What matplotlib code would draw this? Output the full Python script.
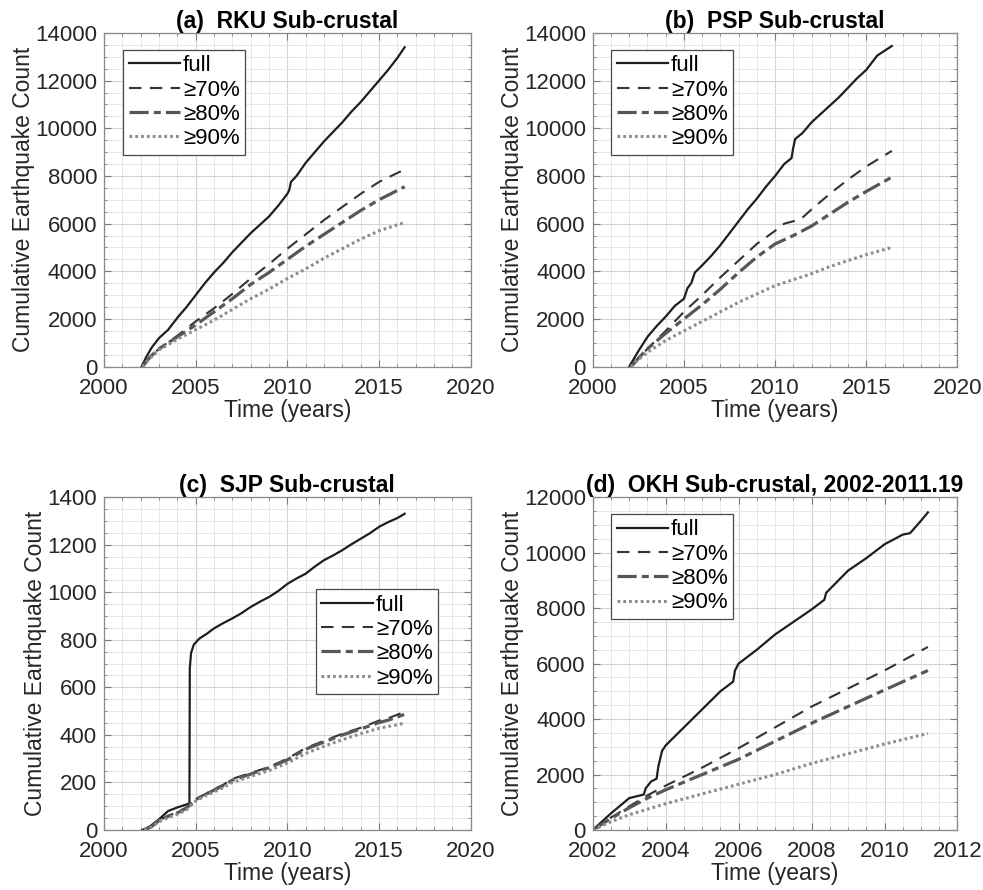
import numpy as np
import matplotlib
matplotlib.use("Agg")
import matplotlib.pyplot as plt
from matplotlib.ticker import MultipleLocator

plt.rcParams['font.family'] = ['Liberation Sans', 'DejaVu Sans']

# ---------------- data ----------------
# (a) RKU
a_full_t = [2002.05, 2002.3, 2002.6, 2003.0, 2003.5, 2004.0, 2004.5, 2005.0, 2005.5, 2006.0, 2006.5,
            2007.0, 2007.5, 2008.0, 2008.5, 2009.0, 2009.5, 2010.0, 2010.1, 2010.2, 2010.5, 2011.0,
            2011.5, 2012.0, 2012.5, 2013.0, 2013.5, 2014.0, 2014.5, 2015.0, 2015.5, 2016.0, 2016.4]
a_full_v = [0, 400, 800, 1200, 1550, 2050, 2500, 3000, 3500, 3950, 4350,
            4800, 5200, 5600, 5950, 6300, 6750, 7250, 7400, 7750, 8000, 8550,
            9000, 9450, 9850, 10250, 10700, 11100, 11550, 12000, 12450, 12950, 13400]
a_70_t = [2002.1, 2002.5, 2003.0, 2004.0, 2005.0, 2006.0, 2007.0, 2008.0, 2009.0, 2010.0, 2011.0,
          2012.0, 2013.0, 2014.0, 2015.0, 2016.2]
a_70_v = [0, 400, 750, 1300, 1900, 2450, 3050, 3700, 4300, 4950, 5550,
          6150, 6700, 7250, 7750, 8200]
a_80_t = [2002.1, 2002.5, 2003.0, 2004.0, 2005.0, 2006.0, 2007.0, 2008.0, 2009.0, 2010.0, 2011.0,
          2012.0, 2013.0, 2014.0, 2015.0, 2016.4]
a_80_v = [0, 400, 750, 1250, 1750, 2300, 2850, 3450, 3950, 4500, 5050,
          5550, 6050, 6550, 7000, 7550]
a_90_t = [2002.1, 2002.5, 2003.0, 2004.0, 2005.0, 2006.0, 2007.0, 2008.0, 2009.0, 2010.0, 2011.0,
          2012.0, 2013.0, 2014.0, 2015.0, 2016.4]
a_90_v = [0, 350, 700, 1150, 1550, 1950, 2400, 2850, 3250, 3700, 4100,
          4550, 4950, 5350, 5700, 6050]

# (b) PSP
b_full_t = [2002.0, 2002.5, 2003.0, 2003.5, 2004.0, 2004.5, 2005.0, 2005.2, 2005.4, 2005.6, 2006.0,
            2006.5, 2007.0, 2007.5, 2008.0, 2008.5, 2009.0, 2009.5, 2010.0, 2010.5, 2010.9, 2011.0,
            2011.1, 2011.5, 2012.0, 2012.5, 2013.0, 2013.5, 2014.0, 2014.5, 2015.0, 2015.6, 2016.0,
            2016.4]
b_full_v = [0, 650, 1250, 1700, 2100, 2550, 2850, 3300, 3500, 3950, 4250,
            4650, 5100, 5600, 6100, 6600, 7050, 7550, 8000, 8500, 8750, 9200,
            9550, 9800, 10250, 10600, 10950, 11300, 11700, 12100, 12450, 13050, 13250,
            13450]
b_70_t = [2002.1, 2002.5, 2003.0, 2004.0, 2005.0, 2006.0, 2007.0, 2008.0, 2009.0, 2010.0, 2010.5,
          2011.0, 2011.5, 2012.0, 2013.0, 2014.0, 2015.0, 2016.4]
b_70_v = [0, 350, 750, 1500, 2300, 3000, 3750, 4450, 5150, 5700, 6000,
          6100, 6250, 6600, 7250, 7850, 8400, 9050]
b_80_t = [2002.1, 2002.5, 2003.0, 2004.0, 2005.0, 2006.0, 2007.0, 2008.0, 2009.0, 2010.0, 2011.0,
          2012.0, 2013.0, 2014.0, 2015.0, 2016.4]
b_80_v = [0, 350, 750, 1400, 2000, 2600, 3250, 3950, 4600, 5150, 5500,
          5900, 6400, 6900, 7350, 7950]
b_90_t = [2002.1, 2002.5, 2003.0, 2004.0, 2005.0, 2006.0, 2007.0, 2008.0, 2009.0, 2010.0, 2011.0,
          2012.0, 2013.0, 2014.0, 2015.0, 2016.4]
b_90_v = [0, 300, 600, 1100, 1500, 1900, 2300, 2700, 3050, 3400, 3650,
          3900, 4200, 4450, 4700, 5000]

# (c) SJP
c_full_t = [2002.1, 2002.5, 2003.0, 2003.5, 2004.0, 2004.4, 2004.66, 2004.68, 2004.75, 2004.9,
            2005.2, 2005.6, 2006.0, 2006.5, 2007.0, 2007.5, 2008.0, 2008.5, 2009.0, 2009.5,
            2010.0, 2010.5, 2011.0, 2011.5, 2012.0, 2012.5, 2013.0, 2013.5, 2014.0, 2014.5,
            2015.0, 2015.5, 2016.0, 2016.4]
c_full_v = [0, 15, 45, 80, 95, 105, 112, 680, 745, 780,
            805, 825, 848, 870, 890, 912, 938, 960, 980, 1005,
            1035, 1058, 1078, 1108, 1135, 1155, 1177, 1202, 1225, 1248,
            1275, 1295, 1312, 1330]
c_70_t = [2002.2, 2002.6, 2003.0, 2003.5, 2004.0, 2004.5, 2005.0, 2005.5, 2006.0, 2006.5, 2007.0,
          2008.0, 2009.0, 2010.0, 2011.0, 2012.0, 2013.0, 2014.0, 2015.0, 2015.5, 2016.0, 2016.4]
c_70_v = [0, 15, 40, 60, 75, 95, 130, 150, 172, 190, 215,
          240, 265, 300, 345, 375, 405, 430, 460, 470, 485, 498]
c_80_t = [2002.2, 2002.6, 2003.0, 2003.5, 2004.0, 2004.5, 2005.0, 2005.5, 2006.0, 2006.5, 2007.0,
          2008.0, 2009.0, 2010.0, 2011.0, 2012.0, 2013.0, 2014.0, 2015.0, 2015.5, 2016.0, 2016.4]
c_80_v = [0, 15, 40, 58, 72, 92, 128, 148, 168, 186, 210,
          235, 262, 295, 340, 370, 400, 425, 452, 462, 475, 487]
c_90_t = [2002.2, 2002.6, 2003.0, 2003.5, 2004.0, 2004.5, 2005.0, 2005.5, 2006.0, 2006.5, 2007.0,
          2008.0, 2009.0, 2010.0, 2011.0, 2012.0, 2013.0, 2014.0, 2015.0, 2016.0, 2016.4]
c_90_v = [0, 12, 35, 52, 66, 85, 122, 142, 160, 178, 200,
          225, 250, 282, 322, 352, 380, 405, 428, 443, 450]

# (d) OKH
d_full_t = [2002.0, 2002.5, 2003.0, 2003.4, 2003.45, 2003.6, 2003.75, 2003.8, 2003.9, 2004.0,
            2004.5, 2005.0, 2005.5, 2005.85, 2005.9, 2006.0, 2006.5, 2007.0, 2007.5, 2008.0,
            2008.35, 2008.4, 2009.0, 2009.5, 2010.0, 2010.5, 2010.7, 2011.0, 2011.19]
d_full_v = [0, 600, 1150, 1280, 1500, 1750, 1850, 2300, 2850, 3050,
            3700, 4350, 5000, 5350, 5750, 6000, 6500, 7050, 7500, 7950,
            8300, 8550, 9350, 9800, 10300, 10650, 10700, 11150, 11450]
d_70_t = [2002.0, 2002.5, 2003.0, 2003.5, 2004.0, 2005.0, 2006.0, 2007.0, 2008.0, 2009.0, 2010.0,
          2011.19]
d_70_v = [0, 450, 850, 1250, 1600, 2250, 2950, 3700, 4450, 5100, 5750, 6600]
d_80_t = [2002.0, 2002.5, 2003.0, 2003.5, 2004.0, 2005.0, 2006.0, 2007.0, 2008.0, 2009.0, 2010.0,
          2011.19]
d_80_v = [0, 420, 800, 1150, 1450, 2000, 2550, 3200, 3850, 4450, 5050, 5750]
d_90_t = [2002.0, 2002.5, 2003.0, 2004.0, 2005.0, 2006.0, 2007.0, 2008.0, 2009.0, 2010.0, 2011.19]
d_90_v = [0, 300, 550, 950, 1300, 1650, 2000, 2400, 2750, 3100, 3480]

titles = ['(a)  RKU Sub-crustal', '(b)  PSP Sub-crustal', '(c)  SJP Sub-crustal',
          '(d)  OKH Sub-crustal, 2002-2011.19']
labels = ['full', '≥70%', '≥80%', '≥90%']

panels = [
    [(a_full_t, a_full_v), (a_70_t, a_70_v), (a_80_t, a_80_v), (a_90_t, a_90_v)],
    [(b_full_t, b_full_v), (b_70_t, b_70_v), (b_80_t, b_80_v), (b_90_t, b_90_v)],
    [(c_full_t, c_full_v), (c_70_t, c_70_v), (c_80_t, c_80_v), (c_90_t, c_90_v)],
    [(d_full_t, d_full_v), (d_70_t, d_70_v), (d_80_t, d_80_v), (d_90_t, d_90_v)],
]

# ---------------- styling ----------------
styles = [
    dict(color='#1e1e1e', lw=1.6, ls='-'),
    dict(color='#333333', lw=1.5, ls=(0, (6, 4))),
    dict(color='#575757', lw=2.3, ls=(0, (6, 1.6, 2.2, 1.6))),
    dict(color='#8c8c8c', lw=2.2, ls=(0, (0.9, 1.0))),
]

axes_rects = [
    [0.1058, 0.588, 0.373, 0.375],
    [0.603, 0.588, 0.371, 0.375],
    [0.1058, 0.0674, 0.373, 0.374],
    [0.603, 0.0674, 0.371, 0.374],
]
xlims = [(2000, 2020), (2000, 2020), (2000, 2020), (2002, 2012)]
ylims = [(0, 14000), (0, 14000), (0, 1400), (0, 12000)]
xmaj = [5, 5, 5, 2]
xmin = [1, 1, 1, 0.5]
ymaj = [2000, 2000, 200, 2000]
ymin = [500, 500, 50, 500]
leg_anchor = [(0.052, 0.95), (0.05, 0.95), (0.578, 0.724), (0.05, 0.95)]

fig = plt.figure(figsize=(9.83, 8.9), dpi=100)
FS = 16
for i in range(4):
    ax = fig.add_axes(axes_rects[i])
    for (t, v), st, lab in zip(panels[i], styles, labels):
        ax.plot(t, v, color=st['color'], lw=st['lw'], linestyle=st['ls'], label=lab)
    ax.set_xlim(*xlims[i])
    ax.set_ylim(*ylims[i])
    ax.xaxis.set_major_locator(MultipleLocator(xmaj[i]))
    ax.xaxis.set_minor_locator(MultipleLocator(xmin[i]))
    ax.yaxis.set_major_locator(MultipleLocator(ymaj[i]))
    ax.yaxis.set_minor_locator(MultipleLocator(ymin[i]))
    ax.grid(which='major', color='#d4d4d4', lw=0.8)
    ax.grid(which='minor', color='#e6e6e6', lw=0.7)
    ax.set_axisbelow(True)
    ax.tick_params(which='both', direction='in', top=True, right=True, colors='#7a7a7a',
                   labelcolor='#262626', labelsize=FS)
    ax.tick_params(which='major', length=5)
    ax.tick_params(which='minor', length=2.5)
    ax.tick_params(axis='x', pad=8)
    ax.tick_params(axis='y', pad=5)
    for sp in ax.spines.values():
        sp.set_color('#8a8a8a')
        sp.set_linewidth(0.9)
    ax.set_xlabel('Time (years)', fontsize=FS + 0.5, color='#262626', labelpad=0)
    ax.set_ylabel('Cumulative Earthquake Count', fontsize=FS + 0.5, color='#262626', labelpad=0)
    ax.set_title(titles[i], fontsize=FS + 0.5, fontweight='bold', pad=2)
    leg = ax.legend(loc='upper left', bbox_to_anchor=leg_anchor[i], borderaxespad=0,
                    fontsize=FS, handlelength=2.3, handletextpad=0.15, labelspacing=0.15,
                    borderpad=0.25, fancybox=False, framealpha=1, edgecolor='#4a4a4a')
    leg.get_frame().set_linewidth(0.9)

fig.savefig('out.png', dpi=100)
